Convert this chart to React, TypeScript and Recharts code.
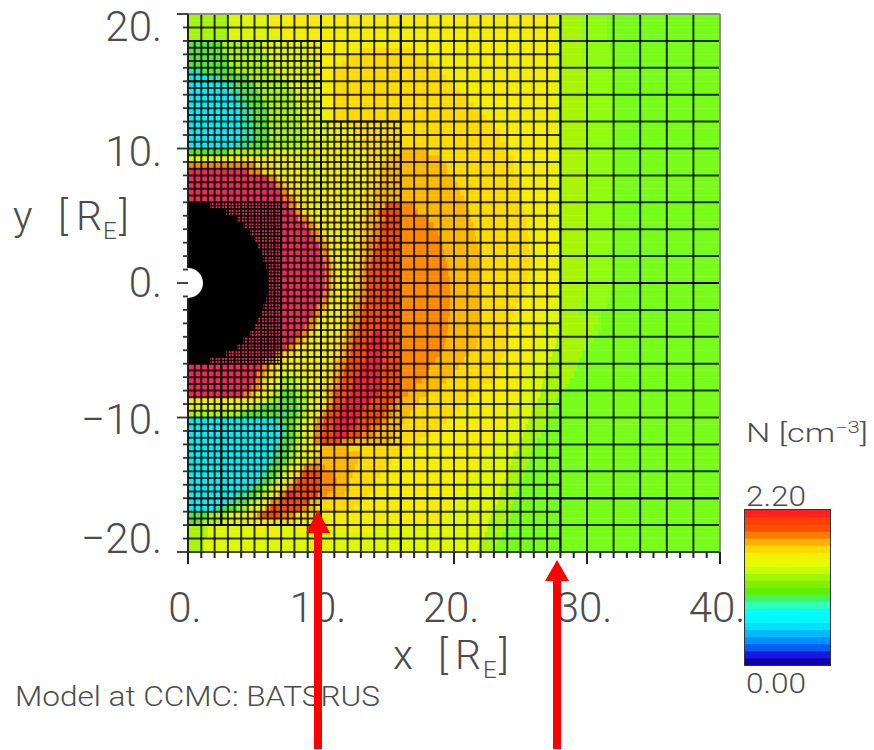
import { Bar, BarChart, ComposedChart, Line, ReferenceArea, ReferenceDot, ReferenceLine, XAxis, YAxis } from "recharts";

// density levels, one letter per contour band
const LEVEL_COLORS: any = {
  c: "#00f0fa", t: "#2ce8a8", G: "#55e835", n: "#78fc1a", m: "#90fc10", L: "#a8f606", l: "#dff800",
  y: "#f6ee00", g: "#ffdb00", a: "#ffb800", O: "#ff8a00", o: "#ff4c00", r: "#f8203a", k: "#ea2c58",
  K: "#000000",
};

// one row per 0.5 R_E from y=20 downwards, each token = level + x where that band ends
const densityRows = [
  "L3 l6 y27.5 l28 L29.5 m31.5 n40",
  "L3 l6 y27.5 l28 L29.5 m31.5 n40",
  "L3 l6.5 y27.5 l28 L29.5 m31.5 n40",
  "L3 l7 y27.5 l28 L29.5 m31.5 n40",
  "G2.5 L5.5 l9 y27.5 l28 L29.7 m31.7 n40",
  "G2.5 L5.5 l9 y13 g17 y27.5 l28 L29.7 m31.7 n40",
  "G3 L6 l9.5 y12 g18 y27.5 l28 L29.8 m31.8 n40",
  "G3 L6 l9.5 y11.5 g18.5 y27.5 l28 L29.8 m31.8 n40",
  "t1 G3.5 L6.5 l9.5 y11 g19 y27.5 l28 L30 m32 n40",
  "c1.5 t2.5 G4.5 L7 l9.5 y11 g19.5 y27.5 l28 L30 m32 n40",
  "c2.8 t3.5 G5 L7.5 l10 y11 g20 y27.5 l28 L30 m32 n40",
  "c3.2 t4 G5.3 L8 l10 y11 g20.5 y27.5 l28 L30 m32 n40",
  "c3.5 t4.3 G5.5 L8 l10 y11 g21 y27.5 l28 L30 m32 n40",
  "c3.8 t4.5 G5.8 L8.2 l10.2 y11 g21.5 y27.5 l28 L30 m32 n40",
  "c4 t4.8 G6 L8.3 l10.3 y11 g22 y27.5 l28 L30 m32 n40",
  "c4 t4.8 G6 L8.5 l10.5 y11 g22.5 y27.5 l28 L30 m32 n40",
  "c4 t5 G6 L8.5 l10.5 y12 g23 y27.7 l28 L30 m32 n40",
  "c4.2 t5 G6.2 L8.8 l10.8 y12.5 g23.5 y27.7 l28 L30 m32 n40",
  "c4 t5 G6.2 L8.8 l11 y13 g23.5 y27.7 l28 L30 m32 n40",
  "c3.5 t4.5 G6 L8.8 l11 y13 g24 y27.7 l28 L30 m32 n40",
  "G3 L6 l9 y13.5 g16 a18 g24 y27.7 l28 L30 m32 n40",
  "l2.5 y8 l10 y13.5 g15 a19 g24.5 y27.7 l28 L30 m32 n40",
  "O5 g6.5 y8.5 l10 y13.5 g14.5 a19.5 g24.5 y27.7 l28 L30 m32 n40",
  "k4.5 O5.5 g6.5 y9 l10 y13.5 g14.5 a19.5 g24.5 y27.7 l28 L30 m32 n40",
  "k6 O6.7 g7.5 y9.5 l10.5 y13.5 g14.5 a20 g25 y27.7 l28 L30 m32 n40",
  "k6.6 O7.2 g8 y10 l10.5 y13.5 g14.3 a20.3 g25 y27.7 l28 L30 m32 n40",
  "k7 O7.6 g8.5 y13.2 g14 a20.5 g25 y27.7 l28 L30 m32 n40",
  "k7.2 O8 g8.8 y13 g14 a20.8 g25 y27.7 l28 L30 m32 n40",
  "K1.7 k7.5 O8.2 g9 y13 g13.7 a14.8 o16 O17 a21 g25.2 y27.7 l28 L30 m32 n40",
  "K2.9 k8 O8.6 g9.3 y12.8 g13.5 a14.3 o16 O17.3 a21.2 g25.3 y27.7 l28 L30 m32 n40",
  "K3.7 k8.3 O9 g9.6 y12.8 g13.3 a14.3 O14.8 o16 O18 a21.3 g25.4 y27.7 l28 L30 m32 n40",
  "K4.2 k8.8 O9.5 g10 y12.8 g13.3 a14 O14.6 o16 O18.5 a21.5 g25.5 y27.7 l28 L30 m32 n40",
  "K4.7 k9.3 O9.9 g10.3 y12.6 g13.2 a13.8 O14.5 o16 O18.8 a21.6 g25.6 y27.7 l28 L30 m32 n40",
  "K5 k9.6 O10.2 g10.6 y12.6 g13.1 a13.6 O14.3 o16 O19 a21.7 g25.7 y27.7 l28 L30 m32 n40",
  "K5.3 k9.9 O10.4 g10.8 y12.5 g13 a13.5 O14.2 o16 O19.2 a21.8 g25.7 y27.7 l28 L30 m32 n40",
  "K5.6 k10 O10.5 g10.9 y12.4 g13 a13.4 O14 o16 O19.3 a21.9 g25.8 y27.7 l28 L30 m32 n40",
  "K5.7 k10.2 O10.7 g11 y12.3 g12.9 a13.3 O13.8 o16 O19.4 a22 g25.8 y27.7 l28 L30 m32 n40",
  "K5.9 k10.3 O10.8 g11.1 y12.3 g12.8 a13.2 O13.7 o16 O19.5 a22 g25.8 y27.7 l28 L30 m32 n40",
  "K5.95 k10.3 O10.8 g11.2 y12.3 g12.8 a13.2 O13.6 o16 O19.6 a22 g25.7 y27.7 l28 L30 m32 n40",
  "K6 k10.3 O10.8 g11.2 y12.3 g12.7 a13.1 O13.5 o16 O19.7 a22 g25.6 y27.7 l28 L30 m32 n40",
  "K6 k10.3 O10.8 g11.2 y12.3 g12.7 a13.1 O13.5 o16 O19.7 a22 g25.5 y27.6 l28 L30 m32 n40",
  "K5.95 k10.2 O10.7 g11.1 y12.2 g12.6 a13 O13.5 o16 O19.7 a22 g25.2 y27.5 l28 L29.8 m31.8 n40",
  "K5.9 k10 O10.5 g10.9 y12 g12.5 a12.9 O13.4 o16 O19.7 a22 g25 y27.4 l28 L29.5 m31.6 n40",
  "K5.7 k9.7 O10.3 g10.7 y11.8 g12.3 a12.7 O13.2 o16 O19.7 a22 g24.7 y27.2 l28 L29.5 m31.5 n40",
  "K5.6 k9.4 O10 g10.4 y11.6 g12.2 a12.6 O13.1 o16 O19.7 a22 g24.5 y27 l28 L29.3 m31 n40",
  "K5.3 k9.1 O9.7 g10.1 y11.5 g12 a12.5 O13 o16 O19.6 a21.9 g24.4 y26.8 l27.9 L30.7 m31 n40",
  "K5 k8.8 O9.4 g9.8 y11.4 g11.9 a12.3 O12.8 o16 O19.6 a21.9 g24.3 y26.6 l27.9 L30.5 m31 n40",
  "K4.7 k8.5 O9.1 g9.5 y11.3 g11.8 a12.2 O12.7 o13.9 r14.7 o16 O19.5 a21.9 g24.2 y26.5 l27.8 L30.2 m30.8 n40",
  "K4.2 k8 O8.7 g9.2 y11.2 g11.7 a12.1 O12.5 o13.7 r14.8 o16 O19.4 a21.8 g24.1 y26.4 l27.7 L30 m30.5 n40",
  "K3.7 k7.4 O8 g8.6 y11 g11.5 a11.9 O12.3 o13.5 r14.8 o16 O19.3 a21.7 g24 y26.2 l27.6 L29.8 m30.2 n40",
  "K2.9 k6.5 O7.2 g8 y10.9 g11.4 a11.8 O12.2 o13.4 r14.8 o16 O19 a21.2 g23.8 y26 l27.4 L29.6 n40",
  "K1.7 k5.8 O6.5 g7.3 y10.7 g11.2 a11.6 O12 o13.3 r14.7 o16 O18.6 a20.8 g23.6 y25.9 l27.2 L29.4 n40",
  "k5.5 O6.2 g7 y10.5 g11 a11.4 O11.8 o13 r14.6 o16 O18.2 a20.4 g23.4 y25.6 l27 L29.2 n40",
  "k5.2 O5.8 g6.5 y7 l8.5 y10.4 g10.9 a11.3 O11.7 o12.8 r14.6 o16 O18 a20.1 g23.2 y25.5 l26.8 L29 n40",
  "k5 O5.6 g6.2 y6.8 l7 L8 l9 y10.2 g10.8 a11.2 O11.6 o12.5 r14.5 o16 O17.6 a19.4 g23 y25.3 l26.7 L28.7 n40",
  "k4.8 O5.4 g6 y6.5 l7 L8.3 l9.2 y10.1 g10.6 a11 O11.4 o12.3 r14.5 o16 O17.2 a19 g22 y25.1 l26.6 L28.4 n40",
  "k4.2 O4.8 g5.5 y6 l6.5 L7 G8 L9 l9.8 y10.3 g10.5 a10.8 O11.1 o12.2 r14.4 o16 O16.6 a18 g21.5 y25 l26.5 L28 n40",
  "y5.5 l6 L6.8 G8.2 L9 l9.6 y10.2 g10.5 a10.8 O11 o11.8 r13.8 o15.6 O16.2 a17.4 g21 y24.8 l26.3 L27.7 n40",
  "l4.5 L5.5 G8.3 L9 l9.5 y10 g10.4 O10.8 o11.5 r13.3 o15 O15.8 a17 g20.5 y24.4 l25.9 L27.4 n40",
  "L4 G7 t7.4 G8.3 L8.8 l9.3 y9.8 g10.1 O10.5 o11.3 r13 o14.8 O15.4 a16.7 g20 y24.2 l25.8 L27.1 n40",
  "c6.4 t7 G8 L8.6 l9.2 y9.7 O10.2 o11.1 r12.8 o14.5 O15 a16.3 g19.5 y24 l25.6 L27 n40",
  "c6.9 t7.3 G8 L8.6 l9.1 y9.6 O10.1 o11 r12.4 o13.8 O14.5 a15.9 g19 y23.7 l25.4 L26.8 n40",
  "c6.9 t7.3 G8 L8.5 l9 y9.6 O10 o11 r12 o13 O14 a15.6 g18.3 y23.3 l25.2 L26.5 n40",
  "c6.8 t7.2 G7.9 L8.4 l9 y9.5 O10 o11.5 O12.5 a15.3 g17.5 y23 l25 L26.2 n40",
  "c6.5 t7 G7.8 L8.3 l8.9 y10 a12 g16.5 y22.8 l24.8 L26 n40",
  "c6.3 t6.8 G7.6 L8.2 l8.8 y9.8 a13 g16 y22.4 l24.5 L25.8 n40",
  "c6 t6.6 G7.4 L8 l8.6 y9 g9.5 a12.8 g15.3 y22 l24.3 L25.6 n40",
  "c5.8 t6.3 G7 L7.5 l8 y8.4 g8.7 O10.3 a12.6 g15 y21.7 l24.2 L25.4 n40",
  "c5.5 t6 G6.7 L7.2 l7.6 y8 g8.4 O8.6 o10 O10.9 a12.4 g14.5 y21.5 l24 L25.2 n40",
  "c5.2 t5.7 G6.3 L6.8 l7.2 y7.6 g7.9 O8.2 o10 O11.2 a12.2 g14.2 y21 l23.8 L25 n40",
  "c4.5 t5 G5.7 L6.3 l6.8 y7.2 g7.6 O7.9 o10 O11 a12.2 g14 y20.7 l23.5 L24.8 n40",
  "c3.6 t4.3 G5.2 L5.8 l6.3 y6.8 O7.3 o7.5 r8 o9.8 O10.5 a11.8 g13.6 y20.4 l23.4 L24.6 n40",
  "c3 t3.7 G4.6 L5.2 l5.7 y6.2 O6.8 o9.2 a10 g13 y20.2 l23.3 L24.5 n40",
  "c2 t2.7 G3.7 L4.5 l5.2 y5.8 O6.2 o8.5 O9 a9.5 g12.5 y19.8 l23 L24.3 n40",
  "G1.5 L3 l4.5 y5.2 O5.6 o7 O8 g9.5 y19.5 l22.8 L24.2 n40",
  "G1 L2.5 l4 y6 g8 y19 l22.6 L24 n40",
  "L1.5 l5 y6.5 l8 y14 l22.5 L23.8 n40",
  "L1.5 l6 y7 l22.3 L23.6 n40",
  "L1.2 l22 L23.3 n40",
  "L1.2 l21.8 L23 n40",
];

// adaptive mesh blocks: x0, x1, y0, y1, cell size
const meshBlocks = [
  [28, 40, -20, 20, 2],
  [16, 28, -20, 20, 1],
  [10, 16, 12, 20, 1],
  [10, 16, -20, -12, 1],
  [0, 10, 18, 20, 1],
  [0, 10, -20, -18, 1],
  [10, 16, -12, 12, 0.5],
  [0, 10, -18, 18, 0.5],
];
const finestBlock = [0, 7, -6, 6, 0.25];

// mesh lines that come out darker in the plot
const darkLines = [
  [0, -16, 40, -16],
  [28, 0, 40, 0],
  [0, -18, 10, -18],
  [7, -18, 7, 6],
  [2.5, -18, 2.5, -6],
  [0, 15, 10, 15],
];

const domainCorners = [{ x: 0, y: -20 }, { x: 40, y: 20 }];
const xTicks = Array.from({ length: 41 }, (_, i) => i);
const yTicks = Array.from({ length: 41 }, (_, i) => 20 - i);
const yLabelDrop: any = { 20: 27, 10: 17, 0: 14, "-10": 16, "-20": 1 };

// colour bar, bottom to top, 22 steps of 0.1
const barColors = [
  "#1000b0", "#1818e0", "#0060f0", "#0090ff", "#00b8ff", "#00e0ff", "#00f8ff", "#00ffff", "#30ffc0", "#44f560", "#60f000",
  "#80f000", "#a0f500", "#c8ff00", "#e8fb00", "#f5f000", "#ffd800", "#ffb000", "#ff7a00", "#ff4c00", "#ff4000", "#ff2020",
];
const barRow: any = { name: "N" };
barColors.forEach((_, i) => { barRow[`s${i}`] = 0.1; });

const cells = densityRows.flatMap((row, i) => {
  let from = 0;
  return row.split(" ").map((tok) => {
    const cell = { x1: from, x2: +tok.slice(1), y1: 20 - i * 0.5, y2: 20 - (i + 1) * 0.5, fill: LEVEL_COLORS[tok[0]] };
    from = cell.x2;
    return cell;
  });
});

const blockLines = ([x0, x1, y0, y1, step]: number[]) => {
  const out: number[][] = [];
  for (let x = x0; x <= x1; x += step) out.push([x, y0, x, y1]);
  for (let y = y0; y <= y1; y += step) out.push([x0, y, x1, y]);
  return out;
};

const FONT = "Roboto, sans-serif";
const INK = "#4c4c4c";

const XTick = ({ x, y, payload }: any) => {
  const major = payload.value % 10 === 0;
  return (
    <g>
      <rect x={x - 1} y={y} width={2} height={major ? 12 : 6} fill="#222" />
      {major && (
        <text x={x - 3} y={y + 70} textAnchor="middle" fontFamily={FONT} fontWeight={300} fontSize={42} fill={INK}>
          {payload.value}.
        </text>
      )}
    </g>
  );
};

const YTick = ({ x, y, payload }: any) => {
  const major = payload.value % 10 === 0;
  return (
    <g>
      <line x1={x} x2={x - (major ? 11 : 5)} y1={y} y2={y} stroke="#333" strokeWidth={1.8} />
      {major && (
        <text x={x - 26} y={y + yLabelDrop[payload.value]} textAnchor="end" fontFamily={FONT} fontWeight={300} fontSize={42} fill={INK}>
          {payload.value < 0 ? `\u2212${-payload.value}` : payload.value}.
        </text>
      )}
    </g>
  );
};

const AxisTitle = ({ xs, base, name }: any) => (
  <text y={base} fontFamily={FONT} fontWeight={300} fontSize={41} fill={INK}>
    <tspan x={xs[0]}>{name}</tspan>
    <tspan x={xs[1]}>[</tspan>
    <tspan x={xs[2]}>R</tspan>
    <tspan x={xs[3]} dy={9} fontSize={24}>E</tspan>
    <tspan x={xs[4]} dy={-9}>]</tspan>
  </text>
);

const App = () => {
  return (
    <div style={{ position: "absolute", left: 0, top: 0, width: 874, height: 750, background: "#fff", overflow: "hidden" }}>
      <ComposedChart width={874} height={750} data={domainCorners} margin={{ top: 14, right: 154, bottom: 138, left: 128 }}>
        <XAxis
          type="number"
          dataKey="x"
          domain={[0, 40]}
          ticks={xTicks}
          interval={0}
          height={60}
          tickSize={0}
          tickMargin={0}
          tick={XTick}
          stroke="#444"
          strokeWidth={1.5}
        />
        <YAxis
          type="number"
          domain={[-20, 20]}
          ticks={yTicks}
          interval={0}
          width={60}
          tickSize={0}
          tickMargin={0}
          tick={YTick}
          stroke="#222"
          strokeWidth={1.5}
        />
        <Line dataKey="y" stroke="none" dot={false} legendType="none" isAnimationActive={false} />
        {cells.map((c, i) => (
          <ReferenceArea key={`cell-${i}`} x1={c.x1} x2={c.x2} y1={c.y1} y2={c.y2} fill={c.fill} fillOpacity={1} stroke={c.fill} strokeWidth={0.4} />
        ))}
        {meshBlocks.flatMap(blockLines).map(([a, b, c, d], i) => (
          <ReferenceLine key={`mesh-${i}`} segment={[{ x: a, y: b }, { x: c, y: d }]} stroke="#000" strokeOpacity={0.8} strokeWidth={2} />
        ))}
        {blockLines(finestBlock).map(([a, b, c, d], i) => (
          <ReferenceLine key={`fine-${i}`} segment={[{ x: a, y: b }, { x: c, y: d }]} stroke="#000" strokeOpacity={0.8} strokeWidth={1.2} />
        ))}
        {darkLines.map(([a, b, c, d], i) => (
          <ReferenceLine key={`dark-${i}`} segment={[{ x: a, y: b }, { x: c, y: d }]} stroke="#000" strokeWidth={2} />
        ))}
        <ReferenceLine segment={[{ x: 0, y: 20 }, { x: 40, y: 20 }]} stroke="#8c8c8c" strokeWidth={2} />
        <ReferenceLine segment={[{ x: 40, y: -20 }, { x: 40, y: 20 }]} stroke="#8c8c8c" strokeWidth={2} />
        <ReferenceDot x={0} y={0} r={15} fill="#fff" stroke="none" />
      </ComposedChart>

      <svg width={874} height={750} style={{ position: "absolute", left: 0, top: 0, pointerEvents: "none" }}>
        <AxisTitle name="y" base={230} xs={[13, 58, 76, 103, 119]} />
        <AxisTitle name="x" base={669} xs={[393, 438, 455, 483, 499]} />
        <text x={746} y={442} textLength={122} lengthAdjust="spacingAndGlyphs" fontFamily={FONT} fontWeight={300} fontSize={25} fill={INK}>
          N [cm<tspan dy={-9} fontSize={16}>{"\u22123"}</tspan><tspan dy={9}>]</tspan>
        </text>
        <text x={746} y={506} textLength={60} lengthAdjust="spacingAndGlyphs" fontFamily={FONT} fontWeight={300} fontSize={27} fill={INK}>2.20</text>
        <text x={746} y={693} textLength={60} lengthAdjust="spacingAndGlyphs" fontFamily={FONT} fontWeight={300} fontSize={27} fill={INK}>0.00</text>
        <text x={15} y={706} textLength={365} lengthAdjust="spacingAndGlyphs" fontFamily={FONT} fontWeight={300} fontSize={27} fill={INK}>Model at CCMC: BATSRUS</text>
        <polygon points="318,510 330,533 322,533 322,749 314,749 314,533 306,533" fill="#ff0000" />
        <polygon points="557,560 569,581 561,581 561,749 553,749 553,581 545,581" fill="#ff0000" />
      </svg>

      <div style={{ position: "absolute", left: 745, top: 510, width: 85, height: 155, outline: "1.5px solid #333" }}>
        <BarChart width={85} height={155} data={[barRow]} margin={{ top: 0, right: 0, bottom: 0, left: 0 }} barCategoryGap={0}>
          <XAxis dataKey="name" hide />
          <YAxis type="number" domain={[0, 2.2]} hide />
          {barColors.map((color, i) => (
            <Bar key={color + i} dataKey={`s${i}`} stackId="n" fill={color} stroke={color} strokeWidth={0.8} isAnimationActive={false} />
          ))}
        </BarChart>
      </div>
    </div>
  );
};

export default App;
